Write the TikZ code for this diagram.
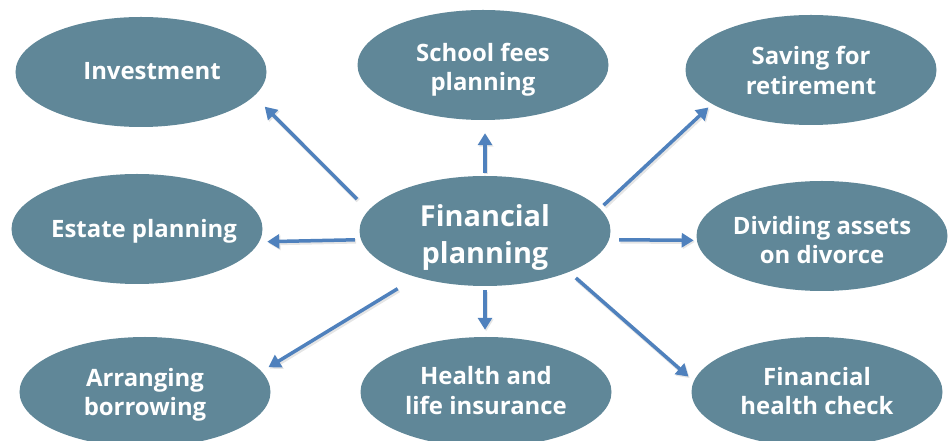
\documentclass[tikz,border=0pt]{standalone}
\usepackage{fontspec}
\setmainfont{Open Sans}
\usetikzlibrary{shapes.geometric,arrows.meta}
\definecolor{bubc}{RGB}{96,135,152}
\definecolor{arrc}{RGB}{79,129,189}
\newcommand\lbl[3]{\makebox[0pt]{\hspace*{#1}\raisebox{-#2}[\height][\depth]{\begin{tabular}{@{}c@{}}#3\end{tabular}}}}
\begin{document}
\begin{tikzpicture}[x=1bp,y=-1bp,
 bub/.style={ellipse, fill=bubc, minimum width=251bp, minimum height=110bp, inner sep=0pt,
   text=white, font=\bfseries\fontsize{24}{30}\selectfont},
 conn/.style={draw=arrc, line width=3.5bp, -{Triangle[length=12bp,width=14bp]},
   preaction={draw=black!10, line width=4.5bp, transform canvas={shift={(1.2bp,-1.5bp)}}}}]
\useasboundingbox (0,0) rectangle (948,441);
\clip (0,0) rectangle (948,441);

\node[bub] (inv) at (141,72) {\lbl{22bp}{2bp}{Investment}};
\node[bub] (sf)  at (483,65) {\lbl{0bp}{5bp}{School fees\\planning}};
\node[bub] (sav) at (811,70) {\lbl{0bp}{3.5bp}{Saving for\\retirement}};
\node[bub] (est) at (137,229) {\lbl{14bp}{3bp}{Estate planning}};
\node[bub, font=\bfseries\fontsize{29}{37}\selectfont] (fp) at (485,231) {\lbl{0bp}{6.5bp}{Financial\\planning}};
\node[bub] (div) at (822,236) {\lbl{0bp}{7bp}{Dividing assets\\on divorce}};
\node[bub] (bor) at (145,392) {\lbl{0bp}{3bp}{Arranging\\borrowing}};
\node[bub] (hl)  at (486,392) {\lbl{0bp}{1.5bp}{Health and\\life insurance}};
\node[bub] (fhc) at (817,392) {\lbl{0bp}{2bp}{Financial\\health check}};

\draw[conn, shorten <=16bp, shorten >=15bp] (fp.170.4) -- (inv.-12.8);
\draw[conn, shorten <=3bp, shorten >=13bp] (fp.north) -- (fp.north |- sf.south);
\draw[conn, shorten <=5bp, shorten >=5bp] (fp.11.1) -- (sav.-161.3);
\draw[conn, shorten <=6bp, shorten >=8bp] (fp.184.2) -- (est.-6.1);
\draw[conn, shorten <=10bp, shorten >=3bp] (fp.-4.2) -- (div.182.8);
\draw[conn, shorten <=22bp, shorten >=8bp] (fp.214.9) -- (bor.10.4);
\draw[conn, shorten <=4bp, shorten >=7bp] (fp.south) -- (fp.south |- hl.north);
\draw[conn, shorten <=9bp, shorten >=7bp] (fp.-26.6) -- (fhc.175.5);
\end{tikzpicture}
\end{document}
